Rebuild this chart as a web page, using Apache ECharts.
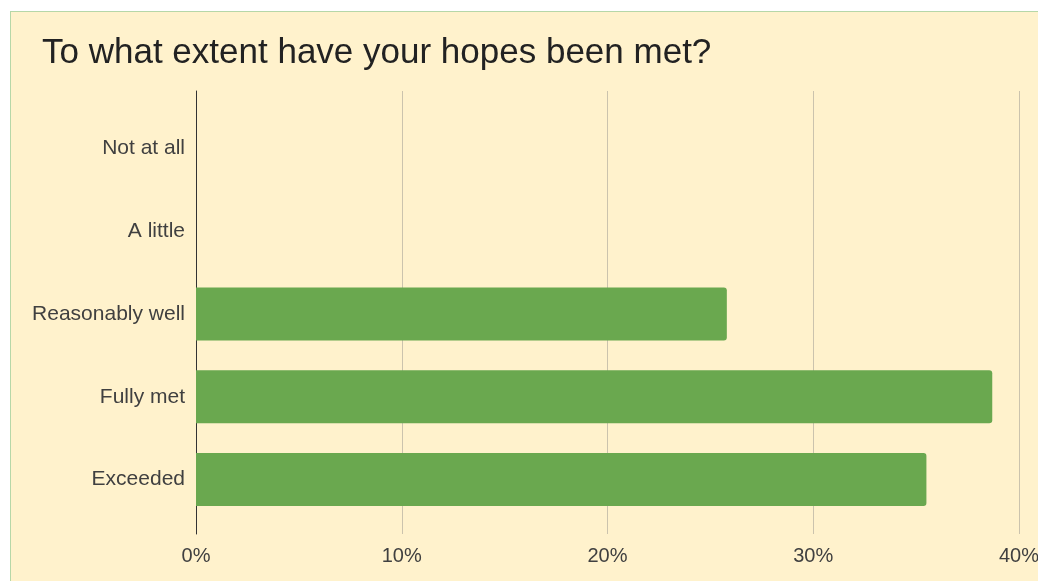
<!DOCTYPE html>
<html>
<head>
<meta charset="utf-8">
<script src="https://cdn.jsdelivr.net/npm/echarts@6/dist/echarts.min.js"></script>
<style>
  html, body { margin: 0; padding: 0; background: #ffffff; overflow: hidden; }
  #card {
    position: absolute; left: 10px; top: 11px; width: 1100px; height: 640px;
    background: #fff2cc; border: 1px solid #b6d7a8; box-sizing: border-box;
  }
  #chart { position: absolute; left: 0; top: 0; width: 1038px; height: 581px; }
</style>
</head>
<body>
<div id="card"></div>
<div id="chart"></div>
<script>
// Survey answers, top to bottom
const categories = ['Not at all', 'A little', 'Reasonably well', 'Fully met', 'Exceeded'];
// Share of respondents, percent
const shares = [0, 0, 25.8, 38.7, 35.5];
// Horizontal axis ticks, percent
const xTicks = [0, 10, 20, 30, 40];

const FONT = "'Liberation Sans', Arial, sans-serif";
const chart = echarts.init(document.getElementById('chart'), null, { renderer: 'canvas' });

const xMin = xTicks[0];
const xMax = xTicks[xTicks.length - 1];
const xStep = xTicks[1] - xTicks[0];

chart.setOption({
  backgroundColor: 'transparent',
  animation: false,
  title: {
    text: 'To what extent have your hopes been met?',
    left: 37, top: 31,
    textStyle: { fontFamily: FONT, fontSize: 35, fontWeight: 'normal', color: '#222222' }
  },
  grid: [
    // frame for gridlines, ticks and the vertical baseline
    { left: 196, right: 19, top: 91, bottom: 47, outerBoundsMode: 'none' },
    // bar area
    { left: 196, right: 19, top: 107, bottom: 60, outerBoundsMode: 'none' }
  ],
  xAxis: [
    {
      gridIndex: 0, type: 'value', min: xMin, max: xMax, interval: xStep,
      axisLine: { show: false }, axisTick: { show: false },
      splitLine: { show: true, lineStyle: { color: '#cbc3ad', width: 1 } },
      axisLabel: {
        margin: 12, fontFamily: FONT, fontSize: 20, color: '#404040',
        formatter: v => v + '%'
      }
    },
    {
      gridIndex: 1, type: 'value', min: xMin, max: xMax, interval: xStep,
      show: false, splitLine: { show: false }
    }
  ],
  yAxis: [
    {
      gridIndex: 0, type: 'value', min: 0, max: 1,
      axisLine: { show: true, onZero: false, lineStyle: { color: '#333333', width: 1 } },
      axisTick: { show: false }, axisLabel: { show: false }, splitLine: { show: false }
    },
    {
      gridIndex: 1, type: 'category', data: categories, inverse: true,
      axisLine: { show: false }, axisTick: { show: false }, splitLine: { show: false },
      axisLabel: { margin: 11, fontFamily: FONT, fontSize: 21, color: '#404040' }
    }
  ],
  series: [
    {
      type: 'bar', xAxisIndex: 1, yAxisIndex: 1,
      data: shares,
      barCategoryGap: '36%',
      itemStyle: { color: '#6aa84f', borderRadius: [0, 3, 3, 0] }
    }
  ]
});
</script>
</body>
</html>
